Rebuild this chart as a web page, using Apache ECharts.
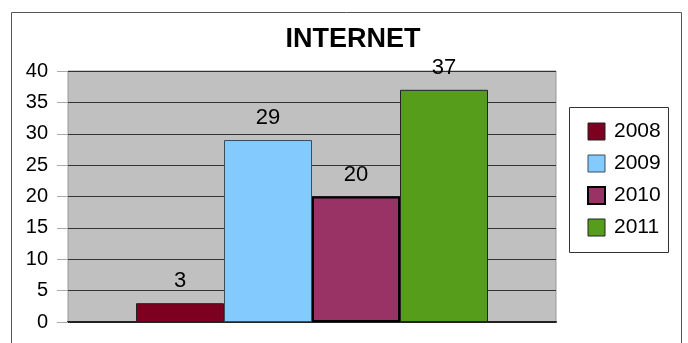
<!DOCTYPE html>
<html><head><meta charset="utf-8">
<script src="https://cdn.jsdelivr.net/npm/echarts@6/dist/echarts.min.js"></script>
<style>html,body{margin:0;padding:0;background:#fff}#c{width:688px;height:343px}</style>
</head><body><div id="c"></div>
<script>
const categories = ['INTERNET'];
const seriesNames = ['2008', '2009', '2010', '2011'];
const values2008 = [3];
const values2009 = [29];
const values2010 = [20];
const values2011 = [37];
const yTicks = [0, 5, 10, 15, 20, 25, 30, 35, 40];

const colors = ['#7e0021', '#83caff', '#993366', '#579d1c'];
const borders = [{c:'#222', w:1}, {c:'#3a4d5e', w:1}, {c:'#000', w:2}, {c:'#222', w:1}];
const allValues = [values2008, values2009, values2010, values2011];

const chart = echarts.init(document.getElementById('c'), null, {renderer: 'canvas'});
const font = 'Liberation Sans, Arial, sans-serif';
chart.setOption({
  animation: false,
  title: {
    text: 'INTERNET', left: 348, top: 21, textAlign: 'center',
    textStyle: {fontFamily: font, fontSize: 27, fontWeight: 'bold', color: '#000'}
  },
  graphic: [{
    type: 'rect', shape: {x: 11.5, y: 12.5, width: 670, height: 340},
    style: {fill: 'none', stroke: '#555', lineWidth: 1}, silent: true, z: -1
  }, {
    type: 'rect', shape: {x: 569.5, y: 107.5, width: 99, height: 145},
    style: {fill: '#fff', stroke: '#333', lineWidth: 1}, silent: true, z: 0
  }],
  legend: {
    orient: 'vertical', left: 582, top: 116, itemGap: 11, icon: 'rect',
    itemWidth: 17, itemHeight: 17,
    textStyle: {fontFamily: font, fontSize: 21, color: '#000', padding: [2, 0, 0, 4]},
    data: seriesNames.map((n, i) => ({name: n, itemStyle: {borderColor: borders[i].c, borderWidth: i === 2 ? 2 : 1}}))
  },
  grid: {left: 68, right: 132, top: 71, bottom: 21, backgroundColor: '#c0c0c0', show: true, borderColor: '#999', borderWidth: 1},
  xAxis: {
    type: 'category', data: categories,
    axisLine: {show: true, lineStyle: {color: '#222', width: 2}},
    axisTick: {show: false}, axisLabel: {show: false}
  },
  yAxis: {
    type: 'value', min: 0, max: 40, interval: 5,
    axisLine: {show: false},
    axisTick: {show: true, length: 11, lineStyle: {color: '#aaa'}},
    axisLabel: {fontFamily: font, fontSize: 20, color: '#000', margin: 20,
      formatter: v => yTicks.includes(v) ? String(v) : ''},
    splitLine: {show: true, lineStyle: {color: '#333', width: 1}}
  },
  series: seriesNames.map((n, i) => ({
    name: n, type: 'bar', data: allValues[i], barWidth: 88, barGap: '0%',
    itemStyle: {color: colors[i], borderColor: borders[i].c, borderWidth: borders[i].w},
    label: {show: true, position: 'top', distance: 11, fontFamily: font, fontSize: 22, color: '#000'}
  }))
});
</script></body></html>
